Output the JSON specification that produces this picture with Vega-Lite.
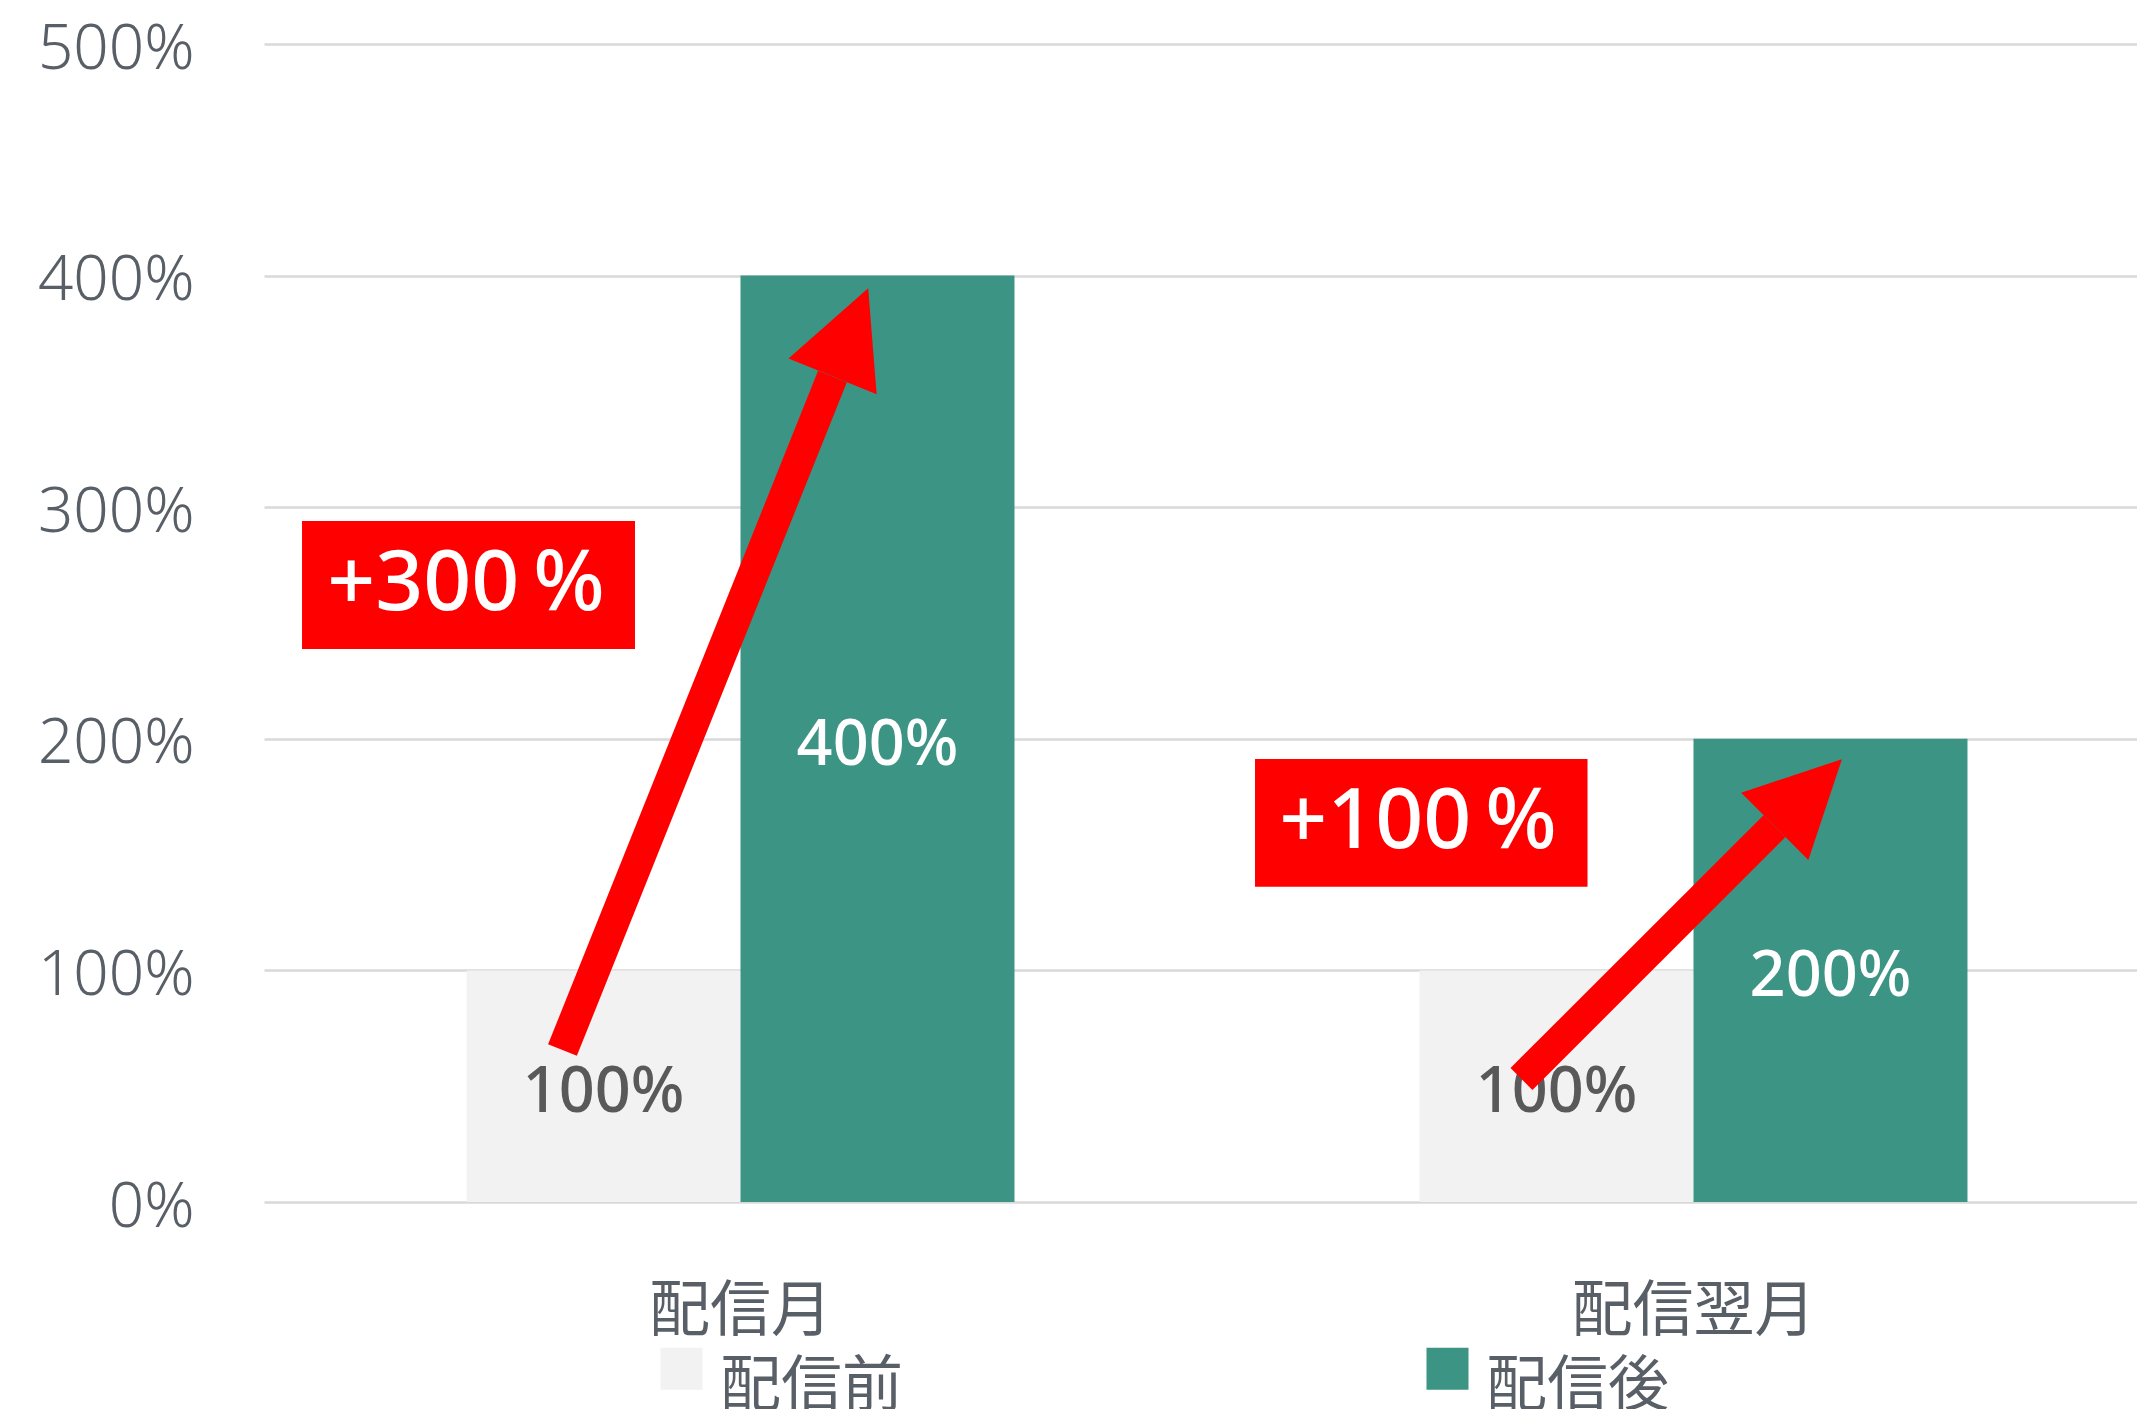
{
  "$schema": "https://vega.github.io/schema/vega-lite/v6.json",
  "width": 1873,
  "height": 1158,
  "autosize": {"type": "none"},
  "padding": {"left": 264, "top": 44, "right": 0, "bottom": 207},
  "background": "white",
  "config": {"view": {"stroke": null}, "font": "Noto Sans"},
  "datasets": {
    "bars": [
      {"month": "配信月", "period": "配信前", "value": 1},
      {"month": "配信月", "period": "配信後", "value": 4},
      {"month": "配信翌月", "period": "配信前", "value": 1},
      {"month": "配信翌月", "period": "配信後", "value": 2}
    ],
    "boxes": [
      {"label": "+300\u2009%", "x": 0.0399, "x2": 0.3893, "y": 2.94, "y2": 2.388, "tx": 0.212, "ty": 2.664},
      {"label": "+100\u2009%", "x": 1.0399, "x2": 1.3888, "y": 1.913, "y2": 1.361, "tx": 1.211, "ty": 1.636}
    ],
    "arrows": [
      {"id": "a1", "x": 0.3132, "y": 0.656, "x2": 0.5965, "y2": 3.564, "hx": 0.6153, "hy": 3.755},
      {"id": "a2", "x": 1.3195, "y": 0.531, "x2": 1.585, "y2": 1.623, "hx": 1.6205, "hy": 1.767}
    ]
  },
  "layer": [
    {
      "data": {"name": "bars"},
      "mark": {"type": "bar"},
      "encoding": {
        "x": {
          "field": "month", "type": "nominal", "sort": ["配信月", "配信翌月"],
          "scale": {"range": [0, 1906], "paddingInner": 0.425, "paddingOuter": 0.2125},
          "axis": {"title": null, "labelAngle": 0, "ticks": false, "tickSize": 0, "domain": false, "grid": false,
                   "labelPadding": 80, "labelFontSize": 61, "labelFont": "Noto Sans CJK JP", "labelColor": "#595f66", "labelLimit": 500}
        },
        "xOffset": {"field": "period", "type": "nominal", "sort": ["配信前", "配信後"]},
        "y": {
          "field": "value", "type": "quantitative", "scale": {"domain": [0, 5]},
          "axis": {"title": null, "values": [0, 1, 2, 3, 4, 5], "format": ".0%", "labelFontSize": 62,
                   "labelColor": "#595f66", "labelFont": "Noto Sans", "labelFontWeight": 300, "labelPadding": 70, "labelOffset": 5,
                   "ticks": false, "tickSize": 0, "domain": false, "grid": true, "gridColor": "#d9d9d9", "gridWidth": 2.5}
        },
        "color": {
          "field": "period", "type": "nominal",
          "scale": {"domain": ["配信前", "配信後"], "range": ["#f2f2f2", "#3c9484"]},
          "legend": {"title": null, "orient": "none", "legendX": 387, "legendY": 1313, "direction": "horizontal",
                     "columnPadding": 513, "symbolType": "M-1,-1.905L1,-1.905L1,0.095L-1,0.095Z", "symbolSize": 1764,
                     "symbolStrokeWidth": 0, "labelFontSize": 61, "labelFont": "Noto Sans CJK JP", "labelColor": "#595f66",
                     "labelOffset": 8, "padding": 0, "labelLimit": 400}
        }
      }
    },
    {
      "data": {"name": "bars"},
      "mark": {"type": "text", "fontSize": 63, "font": "Noto Sans", "fontWeight": 500, "baseline": "middle", "dy": 7},
      "encoding": {
        "x": {"field": "month", "type": "nominal", "sort": ["配信月", "配信翌月"],
              "scale": {"range": [0, 1906], "paddingInner": 0.425, "paddingOuter": 0.2125}, "axis": null},
        "xOffset": {"field": "period", "type": "nominal", "sort": ["配信前", "配信後"]},
        "y": {"field": "value", "type": "quantitative", "scale": {"domain": [0, 10]}, "axis": null},
        "text": {"field": "value", "type": "quantitative", "format": ".0%"},
        "color": {"condition": {"test": "datum.period === '配信前'", "value": "#595959"}, "value": "#ffffff"}
      }
    },
    {
      "data": {"name": "boxes"},
      "mark": {"type": "rect", "color": "#ff0000"},
      "encoding": {
        "x": {"field": "x", "type": "quantitative", "scale": {"domain": [0, 2], "range": [0, 1906], "nice": false}, "axis": null},
        "x2": {"field": "x2"},
        "y": {"field": "y", "type": "quantitative", "scale": {"domain": [0, 5], "nice": false}, "axis": null},
        "y2": {"field": "y2"}
      }
    },
    {
      "data": {"name": "boxes"},
      "mark": {"type": "text", "fontSize": 84, "font": "Noto Sans", "fontWeight": 500, "color": "#ffffff", "baseline": "middle", "align": "center"},
      "encoding": {
        "x": {"field": "tx", "type": "quantitative", "scale": {"domain": [0, 2], "range": [0, 1906], "nice": false}, "axis": null},
        "y": {"field": "ty", "type": "quantitative", "scale": {"domain": [0, 5], "nice": false}, "axis": null},
        "text": {"field": "label"}
      }
    },
    {
      "data": {"name": "arrows"},
      "mark": {"type": "rule", "color": "#ff0000", "strokeWidth": 31, "strokeCap": "butt"},
      "encoding": {
        "x": {"field": "x", "type": "quantitative", "scale": {"domain": [0, 2], "range": [0, 1906], "nice": false}, "axis": null},
        "x2": {"field": "x2"},
        "y": {"field": "y", "type": "quantitative", "scale": {"domain": [0, 5], "nice": false}, "axis": null},
        "y2": {"field": "y2"}
      }
    },
    {
      "data": {"name": "arrows"},
      "transform": [{"filter": "datum.id === 'a1'"}],
      "mark": {"type": "point", "shape": "M0,-1L-1,1L1,1Z", "size": 9025, "filled": true, "color": "#ff0000", "opacity": 1, "strokeWidth": 0, "angle": 22},
      "encoding": {
        "x": {"field": "hx", "type": "quantitative", "scale": {"domain": [0, 2], "range": [0, 1906], "nice": false}, "axis": null},
        "y": {"field": "hy", "type": "quantitative", "scale": {"domain": [0, 5], "nice": false}, "axis": null}
      }
    },
    {
      "data": {"name": "arrows"},
      "transform": [{"filter": "datum.id === 'a2'"}],
      "mark": {"type": "point", "shape": "M0,-1L-1,1L1,1Z", "size": 9025, "filled": true, "color": "#ff0000", "opacity": 1, "strokeWidth": 0, "angle": 45},
      "encoding": {
        "x": {"field": "hx", "type": "quantitative", "scale": {"domain": [0, 2], "range": [0, 1906], "nice": false}, "axis": null},
        "y": {"field": "hy", "type": "quantitative", "scale": {"domain": [0, 5], "nice": false}, "axis": null}
      }
    }
  ],
  "resolve": {"scale": {"x": "independent", "y": "independent", "xOffset": "independent", "color": "independent"}}
}
